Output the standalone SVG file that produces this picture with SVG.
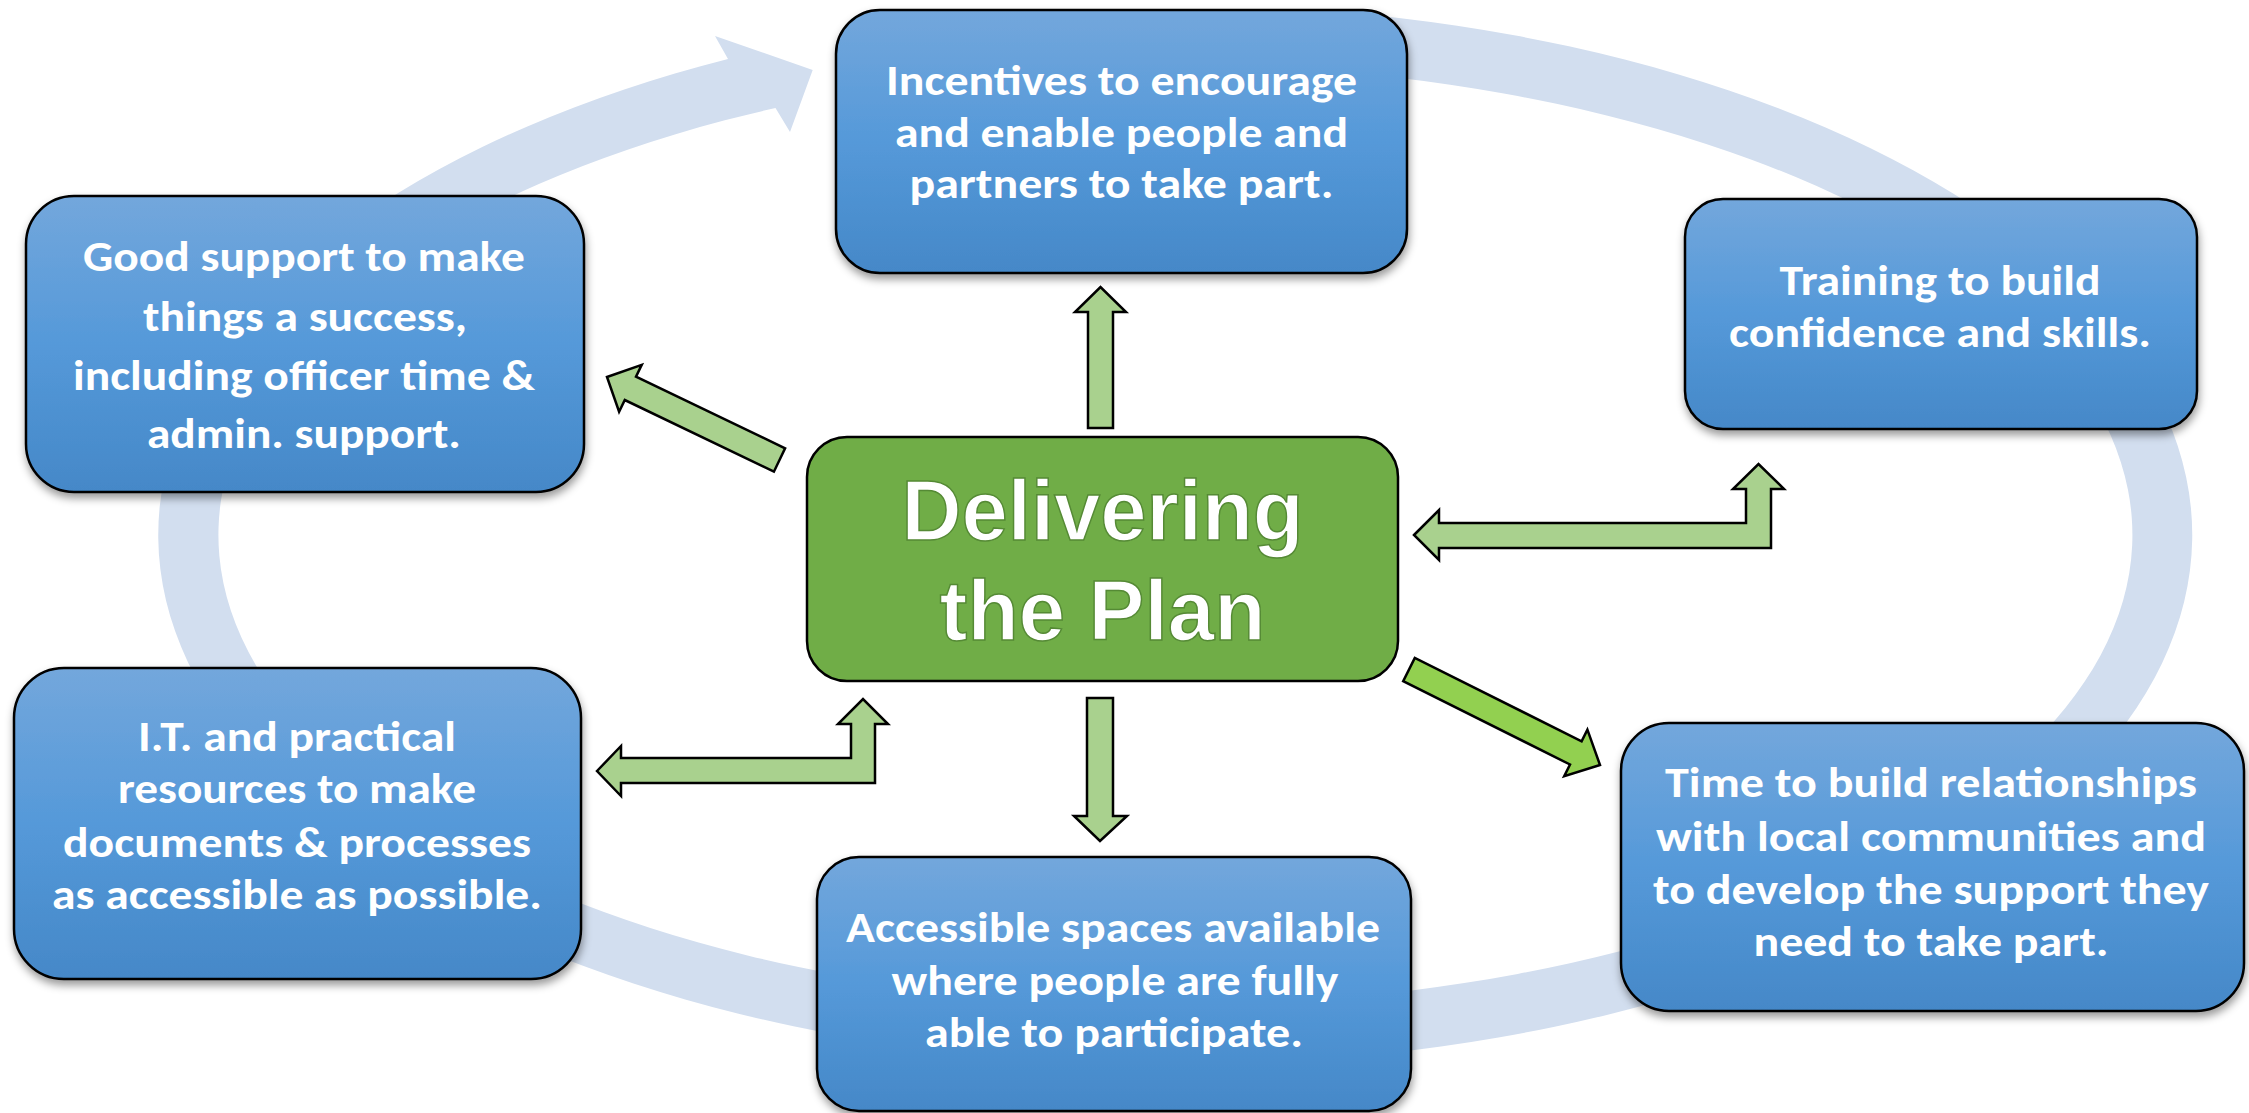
<svg xmlns="http://www.w3.org/2000/svg" width="2249" height="1113" viewBox="0 0 2249 1113">
  <defs>
    <linearGradient id="blueGrad" x1="0" y1="0" x2="0" y2="1">
      <stop offset="0" stop-color="#73a7dc"/>
      <stop offset="0.5" stop-color="#5599d9"/>
      <stop offset="1" stop-color="#4588c8"/>
    </linearGradient>
    <filter id="shadow" x="-10%" y="-10%" width="120%" height="125%">
      <feDropShadow dx="1" dy="5" stdDeviation="4" flood-color="#000" flood-opacity="0.4"/>
    </filter>
  </defs>
  <style>
    .box { fill: url(#blueGrad); stroke: #000; stroke-width: 2.5; filter: url(#shadow); }
    .lbl { font-family: Carlito, Lato, "Open Sans", sans-serif; font-weight: bold; font-size: 43px; fill: #fff; text-anchor: middle; }
    .arrow { fill: #a9d18e; stroke: #000; stroke-width: 2.5; stroke-linejoin: miter; }
    .arrow2 { fill: #92d050; stroke: #000; stroke-width: 2.5; stroke-linejoin: miter; }
    .ring { fill: #d2deef; }
    .center { fill: #70ad47; stroke: #000; stroke-width: 2.5; }
    .title { font-family: "Liberation Sans", Arial, sans-serif; font-weight: bold; font-size: 86px; fill: #fff; stroke: #558a35; stroke-width: 1.5; text-anchor: middle; }
  </style>

  <!-- background cycle arrow -->
  <g id="cycle">
    <path class="ring" d="M1340,12 A1017,530 0 1 1 728,59 L715,36 L812.7,70 L790,132 L775.5,108 A957,470 0 1 0 1340,72 Z"/>
  </g>

  <!-- connectors -->
  <g id="connectors">
    <polygon class="arrow" points="1088,428 1088,312 1075,312 1100.5,287 1126,312 1113,312 1113,428"/>
    <polygon class="arrow" points="1087,698 1113,698 1113,816 1127,816 1100,841 1074,816 1087,816"/>
    <polygon class="arrow" points="607,377 641.7,364.9 636,376.6 785.1,448.3 773.9,471.7 624.8,400 619.1,411.7"/>
    <polygon class="arrow2" points="1600,765 1564.2,776.2 1570,764.5 1403.2,681.1 1414.8,657.9 1581.6,741.3 1587.4,729.6"/>
    <polygon class="arrow" points="1414,535 1439,510 1439,523 1746,523 1746,489 1733,489 1758.5,464 1784,489 1771,489 1771,548 1439,548 1439,560"/>
    <polygon class="arrow" points="597,771 621,746 621,758 851,758 851,724 838,724 863,699 888,724 875,724 875,783 621,783 621,796"/>
  </g>

  <g id="node-center">
    <rect class="center" x="807" y="437" width="591" height="244" rx="40" ry="40"/>
    <text class="title" x="1102.5" y="540" textLength="402" lengthAdjust="spacingAndGlyphs">Delivering</text>
    <text class="title" x="1102.5" y="640" textLength="326" lengthAdjust="spacingAndGlyphs">the Plan</text>
  </g>

  <g id="node-incentives">
    <rect class="box" x="836" y="10" width="571" height="263" rx="44" ry="44"/>
    <text class="lbl" x="1121.5" y="95" textLength="471" lengthAdjust="spacingAndGlyphs">Incentives to encourage</text>
    <text class="lbl" x="1121.5" y="147" textLength="453" lengthAdjust="spacingAndGlyphs">and enable people and</text>
    <text class="lbl" x="1121.5" y="198" textLength="424" lengthAdjust="spacingAndGlyphs">partners to take part.</text>
  </g>

  <g id="node-support">
    <rect class="box" x="26" y="196" width="558" height="296" rx="48" ry="48"/>
    <text class="lbl" x="304" y="271" textLength="442" lengthAdjust="spacingAndGlyphs">Good support to make</text>
    <text class="lbl" x="305" y="331" textLength="324" lengthAdjust="spacingAndGlyphs">things a success,</text>
    <text class="lbl" x="304" y="390" textLength="462" lengthAdjust="spacingAndGlyphs">including officer time &amp;</text>
    <text class="lbl" x="304" y="448" textLength="314" lengthAdjust="spacingAndGlyphs">admin. support.</text>
  </g>

  <g id="node-training">
    <rect class="box" x="1685" y="199" width="512" height="230" rx="38" ry="38"/>
    <text class="lbl" x="1940" y="295" textLength="321" lengthAdjust="spacingAndGlyphs">Training to build</text>
    <text class="lbl" x="1940" y="347" textLength="422" lengthAdjust="spacingAndGlyphs">confidence and skills.</text>
  </g>

  <g id="node-it">
    <rect class="box" x="14" y="668" width="567" height="311" rx="50" ry="50"/>
    <text class="lbl" x="297" y="751" textLength="318" lengthAdjust="spacingAndGlyphs">I.T. and practical</text>
    <text class="lbl" x="297" y="803" textLength="358" lengthAdjust="spacingAndGlyphs">resources to make</text>
    <text class="lbl" x="297" y="857" textLength="468" lengthAdjust="spacingAndGlyphs">documents &amp; processes</text>
    <text class="lbl" x="297" y="909" textLength="490" lengthAdjust="spacingAndGlyphs">as accessible as possible.</text>
  </g>

  <g id="node-spaces">
    <rect class="box" x="817" y="857" width="594" height="254" rx="42" ry="42"/>
    <text class="lbl" x="1113" y="942" textLength="534" lengthAdjust="spacingAndGlyphs">Accessible spaces available</text>
    <text class="lbl" x="1115" y="995" textLength="447" lengthAdjust="spacingAndGlyphs">where people are fully</text>
    <text class="lbl" x="1114" y="1047" textLength="378" lengthAdjust="spacingAndGlyphs">able to participate.</text>
  </g>

  <g id="node-time">
    <rect class="box" x="1621" y="723" width="623" height="288" rx="48" ry="48"/>
    <text class="lbl" x="1931" y="797" textLength="532" lengthAdjust="spacingAndGlyphs">Time to build relationships</text>
    <text class="lbl" x="1931" y="851" textLength="550" lengthAdjust="spacingAndGlyphs">with local communities and</text>
    <text class="lbl" x="1931" y="904" textLength="556" lengthAdjust="spacingAndGlyphs">to develop the support they</text>
    <text class="lbl" x="1931" y="956" textLength="355" lengthAdjust="spacingAndGlyphs">need to take part.</text>
  </g>
</svg>
